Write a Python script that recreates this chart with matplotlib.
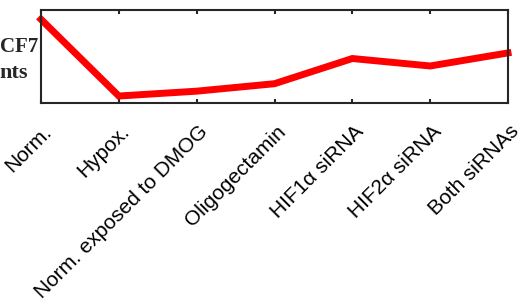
import matplotlib
matplotlib.use('Agg')
import matplotlib.pyplot as plt
import matplotlib.transforms as mtransforms

condicoes = ['Norm.', 'Hypox.', 'Norm. exposed to DMOG', 'Oligogectamin',
             'HIF1α siRNA', 'HIF2α siRNA', 'Both siRNAs']
valores = [0.90, 0.078, 0.13, 0.21, 0.48, 0.40, 0.54]
# parte visível do rótulo do eixo y (o resto está fora do recorte original)
rotulo_y = ['CF7', 'nts']

plt.rcParams['font.family'] = 'Liberation Sans'

fig = plt.figure(figsize=(5.22, 3.06), dpi=100)
ax = fig.add_axes([41 / 522, 1 - 103.3 / 306, 467 / 522, 93.3 / 306])

x = list(range(len(condicoes)))
ax.plot(x, valores, color='#ff0000', linewidth=5, clip_on=False, solid_joinstyle='miter')

ax.set_xlim(0, len(condicoes) - 1)
ax.set_ylim(0, 1)
ax.set_yticks([])
ax.set_xticks(x)
ax.set_xticklabels(condicoes, rotation=45, ha='right', va='baseline',
                   rotation_mode='anchor', fontsize=15)
ax.tick_params(axis='x', direction='in', top=True, length=3, width=1.5,
               color='#262626', pad=21)
for s in ax.spines.values():
    s.set_color('#262626')
    s.set_linewidth(1.5)

desloc = mtransforms.ScaledTranslation(12 / 100, 0, fig.dpi_scale_trans)
for lbl in ax.get_xticklabels():
    lbl.set_transform(lbl.get_transform() + desloc)

fig.text(38 / 522, 1 - 52.3 / 306, rotulo_y[0], ha='right', va='baseline',
         family='Liberation Serif', fontweight='bold', fontsize=15, color='#262626')
fig.text(28 / 522, 1 - 78.3 / 306, rotulo_y[1], ha='right', va='baseline',
         family='Liberation Serif', fontweight='bold', fontsize=16, color='#262626')

fig.savefig('out.png', dpi=100)
